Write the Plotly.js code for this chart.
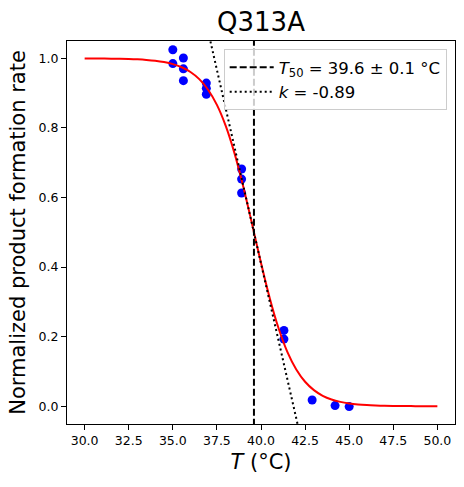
<!DOCTYPE html>
<html>
<head>
<meta charset="utf-8">
<script src="https://cdn.plot.ly/plotly-3.0.1.min.js"></script>
<style>html,body{margin:0;padding:0;background:#fff;}#chart{width:464px;height:487px;}</style>
</head>
<body>
<div id="chart"></div>
<script>
// Measured data points
const tempData = [35.0, 35.0, 35.6, 35.6, 35.6, 36.9, 36.9, 36.9, 38.9, 38.9, 38.9, 41.3, 41.3, 42.9, 44.2, 45.0];
const rateData = [1.025, 0.985, 1.001, 0.970, 0.936, 0.929, 0.914, 0.897, 0.682, 0.653, 0.613, 0.218, 0.193, 0.018, 0.002, -0.001];

// Fitted curve
const fitTemp = [30.0, 30.5, 31.0, 31.5, 32.0, 32.5, 33.0, 33.5, 34.0, 34.5, 35.0, 35.5, 36.0, 36.5, 37.0, 37.5, 38.0, 38.5, 39.0, 39.5, 40.0, 40.5, 41.0, 41.5, 42.0, 42.5, 43.0, 43.5, 44.0, 44.5, 45.0, 45.5, 46.0, 46.5, 47.0, 47.5, 48.0, 48.5, 49.0, 49.5, 50.0];
const fitRate = [0.9998, 0.9997, 0.9995, 0.9993, 0.9988, 0.9982, 0.9972, 0.9956, 0.9932, 0.9894, 0.9836, 0.9746, 0.9610, 0.9404, 0.9100, 0.8663, 0.8059, 0.7269, 0.6304, 0.5222, 0.4119, 0.3098, 0.2234, 0.1556, 0.1056, 0.0704, 0.0463, 0.0301, 0.0195, 0.0126, 0.0081, 0.0052, 0.0034, 0.0022, 0.0014, 0.0009, 0.0006, 0.0004, 0.0002, 0.0001, 0.0001];

// T50 vertical line
const t50Temp = [39.6, 39.6];
const t50Rate = [-0.2, 1.3];

// Tangent line at midpoint
const tanTemp = [36.0, 43.0];
const tanRate = [1.301, -0.2575];

const t50Label = '<i>T</i><sub>50</sub> = 39.6 ± 0.1 °C';
const kLabel = '<i>k</i> = -0.89';

const xTicks = [30.0, 32.5, 35.0, 37.5, 40.0, 42.5, 45.0, 47.5, 50.0];
const yTicks = [0.0, 0.2, 0.4, 0.6, 0.8, 1.0];

const traces = [
  {x: tempData, y: rateData, mode: 'markers', type: 'scatter',
   marker: {color: '#0000ff', size: 9}, showlegend: false, hoverinfo: 'skip'},
  {x: fitTemp, y: fitRate, mode: 'lines', type: 'scatter',
   line: {color: '#ff0000', width: 2, shape: 'spline'}, showlegend: false},
  {x: t50Temp, y: t50Rate, mode: 'lines', type: 'scatter', name: t50Label,
   line: {color: '#000000', width: 2, dash: '7px,3px'}},
  {x: tanTemp, y: tanRate, mode: 'lines', type: 'scatter', name: kLabel,
   line: {color: '#000000', width: 2, dash: '2px,3px'}}
];

const font = 'DejaVu Sans, sans-serif';
const layout = {
  width: 464, height: 487,
  margin: {l: 67, r: 9, t: 41, b: 63},
  paper_bgcolor: '#ffffff', plot_bgcolor: '#ffffff',
  font: {family: font, color: '#000000', size: 12.5},
  title: {text: 'Q313A', font: {size: 26, family: font, color: '#000'},
          x: 0.5, xref: 'paper', y: 0.955, yref: 'container', yanchor: 'middle'},
  xaxis: {range: [29.0, 51.0], tickvals: xTicks, tickformat: '.1f',
          ticks: 'outside', ticklen: 5, tickcolor: '#000', showgrid: false, zeroline: false,
          showline: true, linecolor: '#000', linewidth: 1, mirror: true,
          tickfont: {size: 12.5},
          title: {text: '<i>T</i> (°C)', font: {size: 21}, standoff: 7}},
  yaxis: {range: [-0.051, 1.05], tickvals: yTicks, tickformat: '.1f',
          ticks: 'outside', ticklen: 5, tickcolor: '#000', showgrid: false, zeroline: false,
          showline: true, linecolor: '#000', linewidth: 1, mirror: true,
          tickfont: {size: 12.5},
          title: {text: 'Normalized product formation rate', font: {size: 21}, standoff: 7}},
  legend: {x: 0.9786, y: 0.979, xanchor: 'right', yanchor: 'top',
           bgcolor: 'rgba(255,255,255,0.8)', bordercolor: '#cccccc', borderwidth: 1,
           itemwidth: 44,
           font: {size: 16.5, family: font}},
  showlegend: true
};

Plotly.newPlot('chart', traces, layout, {displayModeBar: false, staticPlot: true});
</script>
</body>
</html>
